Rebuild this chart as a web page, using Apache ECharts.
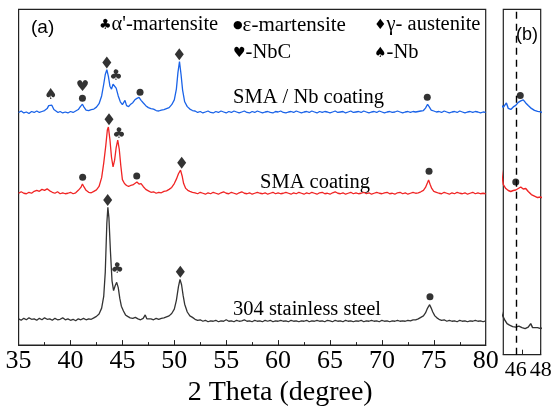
<!DOCTYPE html>
<html><head><meta charset="utf-8">
<script src="https://cdn.jsdelivr.net/npm/echarts@6.0.0/dist/echarts.min.js"></script>
<style>html,body{margin:0;padding:0;background:#fff}#c{width:560px;height:412px}</style>
</head><body><div id="c"></div>
<script>
// 2-theta values (degree) and offset intensities (a.u.)
const black = [[35,27],[35.25,25.5],[35.5,27.5],[35.75,26],[36,28],[36.25,26.5],[36.5,27],[36.75,25.5],[37,27.5],[37.25,26],[37.5,28],[37.75,26.5],[38,27],[38.25,25.5],[38.5,27.5],[38.75,26],[39,26.5],[39.25,28],[39.5,26],[39.75,27],[40,25.5],[40.25,26.5],[40.5,25],[40.75,27],[41,26],[41.25,27.5],[41.5,26],[41.75,27],[42,26.5],[42.25,28],[42.5,29.5],[42.75,32],[43,38],[43.2,50],[43.35,75],[43.5,125],[43.6,141.5],[43.7,131],[43.85,96],[44,66],[44.15,56],[44.3,61],[44.45,64.5],[44.6,59],[44.75,48],[44.9,40],[45.1,35],[45.3,31],[45.5,29.5],[45.75,28],[46,27.5],[46.25,28.5],[46.5,27],[46.75,26],[47,27.5],[47.2,31],[47.35,27],[47.5,26.5],[47.75,27],[48,26],[48.25,27.5],[48.5,26.5],[48.75,27.5],[49,28],[49.25,29],[49.5,30],[49.75,32.5],[50,37],[50.2,46],[50.4,60],[50.55,67.5],[50.7,62],[50.85,51],[51,42],[51.25,34],[51.5,30],[51.75,28.5],[52,26.5],[52.25,25.5],[52.5,26],[52.75,24.5],[53,25.5],[53.25,24],[53.5,25],[53.75,24.5],[54,25.5],[54.25,24],[54.5,25],[54.75,24.5],[55,26],[55.25,24.5],[55.5,25],[55.75,24],[56,25.5],[56.25,24.5],[56.5,25],[56.75,26],[57,24.5],[57.25,25],[57.5,24],[57.75,25.5],[58,24.5],[58.25,25],[58.5,24],[58.75,25.5],[59,24.5],[59.25,25.5],[59.5,24],[59.75,25],[60,24.5],[60.25,25.5],[60.5,24.5],[60.75,25],[61,24],[61.25,25.5],[61.5,24.5],[61.75,25],[62,24],[62.25,25],[62.5,24.5],[62.75,25.5],[63,24],[63.25,25],[63.5,24.5],[63.75,25.5],[64,24.5],[64.25,25],[64.5,24],[64.75,25.5],[65,25],[65.25,24],[65.5,25.5],[65.75,24.5],[66,25],[66.25,24],[66.5,25.5],[66.75,24.5],[67,25],[67.25,24],[67.5,25],[67.75,24.5],[68,25.5],[68.25,24],[68.5,25],[68.75,24.5],[69,25.5],[69.25,24.5],[69.5,25],[69.75,24],[70,25.5],[70.25,24.5],[70.5,25],[70.75,24],[71,25],[71.25,24.5],[71.5,25.5],[71.75,24.5],[72,25],[72.25,24.5],[72.5,25.5],[72.75,25],[73,26],[73.25,26],[73.5,27],[73.75,28.5],[74,30],[74.2,33],[74.4,38],[74.6,41.5],[74.75,38],[74.9,34],[75.1,30],[75.3,28],[75.5,26.5],[75.75,25.5],[76,26],[76.25,24.5],[76.5,25.5],[76.75,24.5],[77,25],[77.25,24],[77.5,25.5],[77.75,24.5],[78,25],[78.25,24],[78.5,25],[78.75,24.5],[79,25.5],[79.25,24.5],[79.5,25],[79.75,24],[80,25]];

const red = [[35,156],[35.25,157.5],[35.5,156],[35.75,155.5],[36,157],[36.25,156],[36.5,158],[36.75,159],[37,158],[37.25,160],[37.5,159],[37.75,160.5],[38,158.5],[38.25,157],[38.5,156],[38.75,157.5],[39,155.5],[39.25,156.5],[39.5,155.5],[39.75,156],[40,157],[40.25,155.5],[40.5,156.5],[40.75,159],[41,162],[41.15,165.5],[41.3,162.5],[41.5,159],[41.75,157],[42,156.5],[42.25,158],[42.5,159.5],[42.75,163],[43,172],[43.2,187],[43.4,205],[43.55,221],[43.65,224],[43.8,211],[43.95,193],[44.1,183],[44.25,190],[44.4,203],[44.55,210.5],[44.7,201],[44.85,184],[45,170],[45.2,166],[45.4,164],[45.6,163],[45.8,164],[46,164.5],[46.2,166],[46.4,167.5],[46.6,165.5],[46.8,166],[47,163],[47.25,160],[47.5,158.5],[47.75,157],[48,157.5],[48.25,156],[48.5,157],[48.75,156.5],[49,158],[49.25,158.5],[49.5,160],[49.75,162],[50,166],[50.2,170.5],[50.4,176],[50.6,179.7],[50.75,174],[50.9,166],[51.1,161],[51.3,159],[51.5,158],[51.75,157],[52,156.5],[52.25,155.5],[52.5,157],[52.75,156],[53,155],[53.25,156.5],[53.5,155.5],[53.75,157],[54,156],[54.25,155],[54.5,156.5],[54.75,157.5],[55,156],[55.25,155.5],[55.5,157],[55.75,156],[56,155],[56.25,156.5],[56.5,157.5],[56.75,156],[57,155.5],[57.25,156.5],[57.5,155],[57.75,156],[58,157],[58.25,156],[58.5,155.5],[58.75,156.5],[59,155],[59.25,156],[59.5,157],[59.75,155.5],[60,156.5],[60.25,155.5],[60.5,156],[60.75,157],[61,156],[61.25,155],[61.5,156.5],[61.75,155.5],[62,157],[62.25,156],[62.5,155],[62.75,156.5],[63,155.5],[63.25,157],[63.5,156],[63.75,155],[64,156.5],[64.25,157],[64.5,155.5],[64.75,156],[65,155],[65.25,156.5],[65.5,157.5],[65.75,156],[66,155.5],[66.25,156.5],[66.5,155],[66.75,156],[67,157],[67.25,155.5],[67.5,156.5],[67.75,155.5],[68,156],[68.25,157],[68.5,155.5],[68.75,156.5],[69,155],[69.25,156],[69.5,157],[69.75,156],[70,155.5],[70.25,156.5],[70.5,157],[70.75,155.5],[71,156],[71.25,155],[71.5,156.5],[71.75,157],[72,155.5],[72.25,156.5],[72.5,155],[72.75,156],[73,157],[73.25,156],[73.5,156.5],[73.75,157.5],[74,159],[74.2,162],[74.4,167],[74.5,169.7],[74.65,165],[74.8,161],[75,158],[75.25,157],[75.5,156],[75.75,155.5],[76,157],[76.25,156],[76.5,155],[76.75,156.5],[77,155.5],[77.25,157],[77.5,156],[77.75,155.5],[78,156.5],[78.25,155],[78.5,156],[78.75,157],[79,155.5],[79.25,156.5],[79.5,155.5],[79.75,156],[80,155.5]];

const blue = [[35,239],[35.25,240.5],[35.5,238.5],[35.75,239.5],[36,238],[36.25,240],[36.5,239],[36.75,240.5],[37,239],[37.25,240],[37.5,241],[37.75,243],[37.9,246],[38.05,248],[38.2,246.5],[38.4,242],[38.6,240.5],[38.8,239],[39,240],[39.25,238.5],[39.5,239.5],[39.75,238.5],[40,240],[40.25,239],[40.5,240.5],[40.75,242],[40.95,245],[41.15,247.5],[41.3,244.5],[41.5,241.5],[41.75,241],[42,242],[42.25,242.5],[42.5,244.5],[42.75,248],[43,256],[43.2,268],[43.35,278],[43.5,283],[43.65,276],[43.8,266],[43.95,263],[44.1,268],[44.25,269.5],[44.4,264],[44.6,256],[44.8,250],[45,247],[45.25,251.5],[45.4,246],[45.6,245],[45.8,247.5],[46,249],[46.2,252],[46.4,253.5],[46.6,254.5],[46.8,251.5],[47,249],[47.25,246],[47.5,244],[47.75,243],[48,242.5],[48.25,241],[48.5,240.5],[48.75,241.5],[49,242],[49.25,243],[49.5,244],[49.75,247],[50,252],[50.2,263],[50.35,280],[50.5,291.4],[50.65,278],[50.8,262],[51,250],[51.25,245],[51.5,242.5],[51.75,241],[52,240.5],[52.25,239],[52.5,240],[52.75,238.5],[53,239.5],[53.25,240.5],[53.5,239],[53.75,238.5],[54,240],[54.25,239],[54.5,240.5],[54.75,239.5],[55,238.5],[55.25,240],[55.5,239],[55.75,240.5],[56,239.5],[56.25,238.5],[56.5,239.5],[56.75,240.5],[57,239],[57.25,238.5],[57.5,240],[57.75,239],[58,240.5],[58.25,239.5],[58.5,238.5],[58.75,239.5],[59,240],[59.25,239],[59.5,238.5],[59.75,240],[60,239.5],[60.25,240.5],[60.5,239],[60.75,238.5],[61,239.5],[61.25,240],[61.5,239],[61.75,240.5],[62,239.5],[62.25,238.5],[62.5,239.5],[62.75,240],[63,239],[63.25,240.5],[63.5,239.5],[63.75,238.5],[64,240],[64.25,239],[64.5,240],[64.75,239.5],[65,238.5],[65.25,239.5],[65.5,240.5],[65.75,239],[66,239.5],[66.25,240],[66.5,238.5],[66.75,239.5],[67,240.5],[67.25,239],[67.5,239.5],[67.75,240],[68,239],[68.25,240.5],[68.5,239.5],[68.75,238.5],[69,239.5],[69.25,240],[69.5,239],[69.75,240.5],[70,239.5],[70.25,238.5],[70.5,239.5],[70.75,240],[71,239],[71.25,239.5],[71.5,240.5],[71.75,239.5],[72,238.5],[72.25,239.5],[72.5,240],[72.75,239],[73,240],[73.25,239.5],[73.5,240],[73.75,240.5],[74,241],[74.2,243.5],[74.4,247.4],[74.55,245],[74.75,241.5],[75,240.5],[75.25,239.5],[75.5,240],[75.75,239],[76,240.5],[76.25,239.5],[76.5,238.5],[76.75,239.5],[77,240],[77.25,239],[77.5,240.5],[77.75,239.5],[78,238.5],[78.25,239.5],[78.5,240],[78.75,239],[79,240],[79.25,239.5],[79.5,238.5],[79.75,239.5],[80,239]];

// phase markers: [2theta, height, glyph]
const markersA = [[38.1,256.4,'♠'],[41.15,264.7,'♥'],[41.15,253.7,'●'],[43.5,290.4,'♦'],[44.38,276.4,'♣'],[46.7,259.7,'●'],[50.48,298.7,'♦'],[74.37,254.7,'●'],
  [41.17,172.4,'●'],[43.71,232,'♦'],[44.67,217,'♣'],[46.38,173.7,'●'],[50.71,187.4,'♦'],[74.54,178.7,'●'],
  [43.58,149,'♦'],[44.51,78,'♣'],[50.58,75.4,'♦'],[74.63,49.7,'●']];
const markersB = [[46.36,259,'●'],[46.0,172.4,'●']];
const dashX = 46;

const xTicksA = [35,40,45,50,55,60,65,70,75,80];
const xTicksB = [46,48];
const seriesNames = ['304 stainless steel','SMA coating','SMA / Nb coating'];
const seriesColors = ['#333333','#f02424','#1a63e8'];

const legendRow1 = ['{s|♣}α\'-martensite','{d|●}ε-martensite','{s|♦}γ- austenite'];
const legendRow2 = ['{s|♥}-NbC','{s|♠}-Nb'];

const chart = echarts.init(document.getElementById('c'), null, {renderer:'canvas'});
const serif = 'Liberation Serif';

function markerItem(m){
  const [x,y,g] = m;
  if (g === '●') return {value:[x,y], symbol:'circle', symbolSize:7};
  if (g === '♦') return {value:[x,y], symbol:'diamond', symbolSize:[9,12]};
  return {value:[x,y], symbol:'circle', symbolSize:0,
    label:{show:true, formatter:g, position:'inside', fontFamily:'DejaVu Sans', fontSize:15, color:'#000'}};
}

const datas = [black, red, blue];
const series = [];
datas.forEach((d,i)=>{
  series.push({type:'line', name:seriesNames[i], xAxisIndex:0, yAxisIndex:0, data:d, showSymbol:false, symbol:'none',
    lineStyle:{color:seriesColors[i], width:1.3}, itemStyle:{color:seriesColors[i]}, clip:true, z:2});
  const s = {type:'line', xAxisIndex:1, yAxisIndex:1, data:d, showSymbol:false, symbol:'none',
    lineStyle:{color:seriesColors[i], width:1.4}, clip:true, z:2};
  if (i===0) s.markLine = {silent:true, symbol:'none', animation:false,
    lineStyle:{color:'#000', width:1.4, type:[7,5]}, label:{show:false}, data:[{xAxis:dashX}]};
  series.push(s);
});
series.push({type:'scatter', xAxisIndex:0, yAxisIndex:0, data:markersA.map(markerItem), itemStyle:{color:'#000'}, z:5});
series.push({type:'scatter', xAxisIndex:1, yAxisIndex:1, data:markersB.map(markerItem), itemStyle:{color:'#000'}, z:5});

const axisCommon = {
  axisLine:{show:true, lineStyle:{color:'#222', width:1.2}},
  axisTick:{show:true, inside:true, length:5, lineStyle:{color:'#222', width:1}},
  axisLabel:{fontFamily:serif, fontSize:26, color:'#000', margin:3, showMinLabel:true, showMaxLabel:true, hideOverlap:false, overflow:'none'},
  splitLine:{show:false}
};

const graphic = [
  {type:'text', x:31, y:28, style:{text:'(a)', fontFamily:'Liberation Sans', fontSize:19, fill:'#000', verticalAlign:'middle'}},
  {type:'text', x:516, y:35, style:{text:'(b)', fontFamily:'Liberation Sans', fontSize:18, fill:'#000', verticalAlign:'middle'}},
  {type:'text', x:233, y:98, style:{text:seriesNames[2], fontFamily:serif, fontSize:20.5, fill:'#000', verticalAlign:'middle'}},
  {type:'text', x:260, y:183, style:{text:seriesNames[1], fontFamily:serif, fontSize:20.5, fill:'#000', verticalAlign:'middle'}},
  {type:'text', x:233, y:310, style:{text:seriesNames[0], fontFamily:serif, fontSize:20.5, fill:'#000', verticalAlign:'middle'}}
];
const rich = {s:{fontFamily:'DejaVu Sans', fontSize:14, fill:'#000'}, d:{fontFamily:'DejaVu Sans', fontSize:11, fill:'#000'}};
const row1X = [99,233,374], row2X = [233,374];
const row1Size = [20.5,21,20.5];
legendRow1.forEach((t,i)=>graphic.push({type:'text', x:row1X[i], y:25, style:{text:t, fontFamily:serif, fontSize:row1Size[i], fill:'#000', verticalAlign:'middle', rich}}));
legendRow2.forEach((t,i)=>graphic.push({type:'text', x:row2X[i], y:53, style:{text:t, fontFamily:serif, fontSize:20.5, fill:'#000', verticalAlign:'middle', rich}}));

chart.setOption({
  animation:false,
  backgroundColor:'#fff',
  grid:[
    {left:18.6, right:74.3, top:9.3, bottom:57.3, show:true, borderColor:'#222', borderWidth:1.2, backgroundColor:'transparent'},
    {left:503.3, right:19.3, top:9.3, bottom:57.3, show:true, borderColor:'#222', borderWidth:1.2, backgroundColor:'transparent'}
  ],
  xAxis:[
    Object.assign({}, axisCommon, {type:'value', gridIndex:0, min:xTicksA[0], max:xTicksA[xTicksA.length-1], interval:5,
      minorTick:{show:true, splitNumber:2, length:3, lineStyle:{color:'#222'}}, minorSplitLine:{show:false},
      name:'2 Theta (degree)', nameLocation:'middle', nameGap:21,
      nameTextStyle:{fontFamily:serif, fontSize:28, color:'#000', padding:[0,0,0,56]}}),
    Object.assign({}, axisCommon, {type:'value', gridIndex:1, min:45, max:48, interval:1,
      axisTick:{show:true, inside:true, length:5, lineStyle:{color:'#222'}, customValues:[46,46.5,48]},
      axisLabel:Object.assign({}, axisCommon.axisLabel, {fontSize:22, margin:5, customValues:xTicksB,
        formatter:(v)=> xTicksB.indexOf(v) >= 0 ? String(v) : ''})})
  ],
  yAxis:[
    {type:'value', gridIndex:0, min:0, max:345, show:false},
    {type:'value', gridIndex:1, min:0, max:345, show:false}
  ],
  graphic,
  series
});
</script></body></html>
